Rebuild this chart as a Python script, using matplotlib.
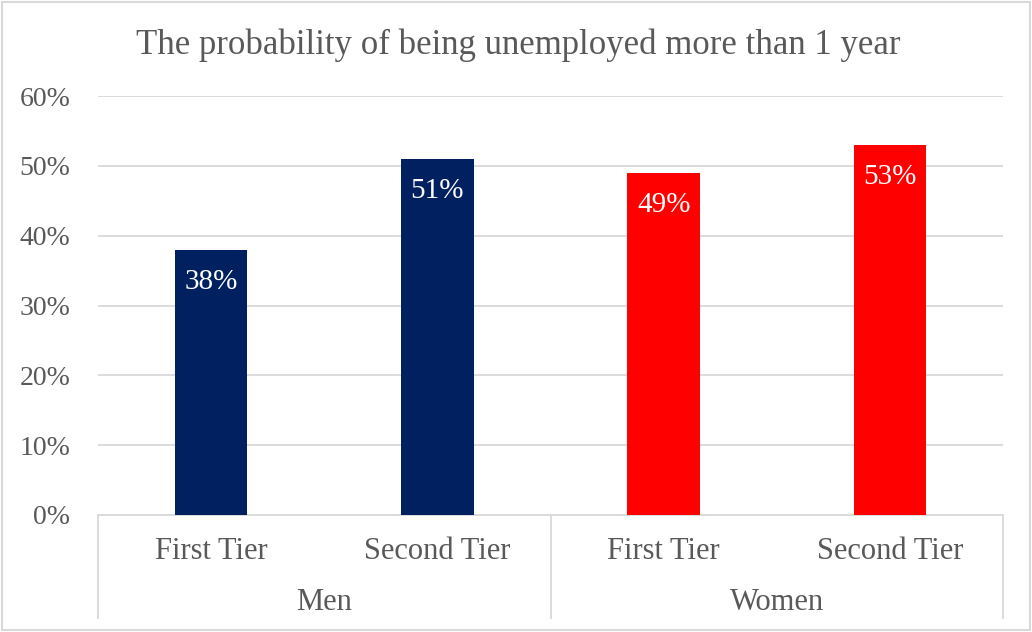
import matplotlib
matplotlib.use("Agg")
import matplotlib.pyplot as plt
from matplotlib.lines import Line2D
from matplotlib.patches import Rectangle
from matplotlib.ticker import PercentFormatter

# Data
groups = ["Men", "Women"]
tiers = ["First Tier", "Second Tier"]
values = [0.38, 0.51, 0.49, 0.53]
labels = ["38%", "51%", "49%", "53%"]
colors = ["#002060", "#002060", "#FF0000", "#FF0000"]
title = "The probability of being unemployed more than 1 year"
y_ticks = [0, 0.1, 0.2, 0.3, 0.4, 0.5, 0.6]

text_color = "#595959"
grid_color = "#D9D9D9"
plt.rcParams["font.family"] = ["Liberation Serif", "DejaVu Serif"]

W, H = 1032, 632
fig = plt.figure(figsize=(W / 100, H / 100), dpi=100)
fig.patches.append(Rectangle((2 / W, 2 / H), 1 - 4 / W, 1 - 4 / H,
                             transform=fig.transFigure, fill=False,
                             edgecolor=grid_color, linewidth=1.5))

left, right, bottom, top = 98, 1003, 515, 96
ax = fig.add_axes([left / W, (H - bottom) / H, (right - left) / W, (bottom - top) / H])

x = list(range(len(values)))
bars = ax.bar(x, values, width=0.32, color=colors, zorder=3)
for b, lab in zip(bars, labels):
    ax.annotate(lab, (b.get_x() + b.get_width() / 2, b.get_height()),
                xytext=(0, -23), textcoords="offset points",
                ha="center", va="center", color="white", fontsize=21, zorder=4)

ax.set_xlim(-0.5, len(values) - 0.5)
ax.set_ylim(0, 0.6)
ax.set_yticks(y_ticks)
ax.yaxis.set_major_formatter(PercentFormatter(1.0, decimals=0))
ax.grid(axis="y", color=grid_color, linewidth=1.3, zorder=0)
for s in ["left", "right", "top"]:
    ax.spines[s].set_visible(False)
ax.spines["bottom"].set_color(grid_color)
ax.spines["bottom"].set_linewidth(1.3)
ax.tick_params(axis="y", length=0, labelsize=20, labelcolor=text_color, pad=20)
ax.tick_params(axis="x", length=0, labelsize=22, labelcolor=text_color, pad=16)
ax.set_xticks(x)
ax.set_xticklabels(tiers * len(groups))

# Group labels and separators below the axis
trans = ax.get_xaxis_transform()
n = len(tiers)
for gi, g in enumerate(groups):
    center = gi * n + (n - 1) / 2
    ax.text(center, -(603 - bottom) / (bottom - top), g, transform=trans,
            ha="center", va="center", fontsize=22, color=text_color)
depth = (618 - bottom) / (bottom - top)
for k in range(len(groups) + 1):
    xs = k * n - 0.5
    ax.add_line(Line2D([xs, xs], [0, -depth], transform=trans, color=grid_color,
                       linewidth=1.3, clip_on=False))

fig.text(518 / W, 1 - 45 / H, title, ha="center", va="center",
         fontsize=25, color=text_color)

fig.savefig("out.png", dpi=100)
